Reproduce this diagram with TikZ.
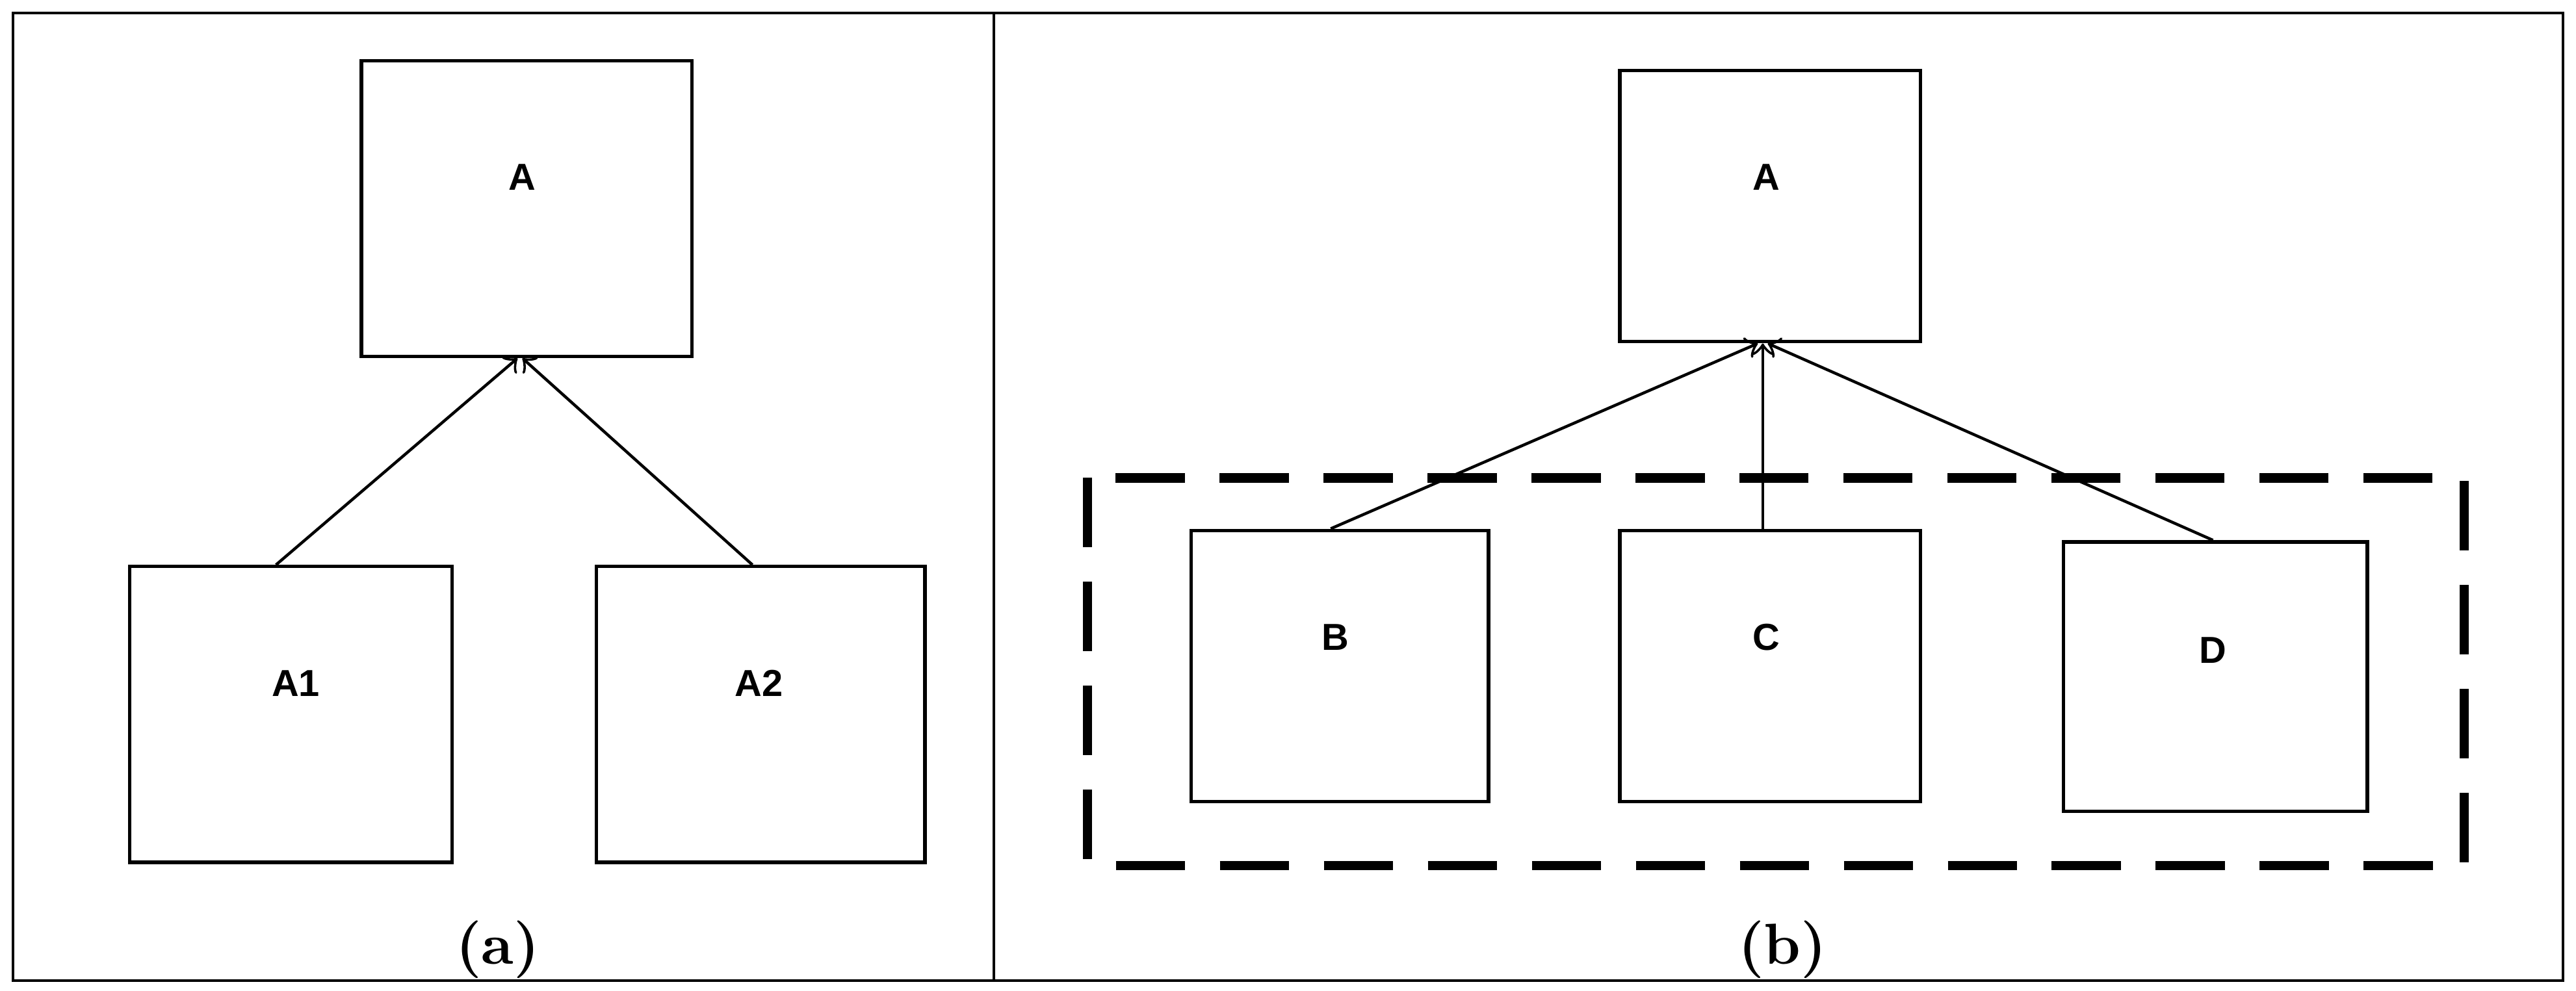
\documentclass[tikz,border=0pt]{standalone}
\usepackage{fontspec}
\newfontfamily\boxfont{Liberation Sans}
\begin{document}
\begin{tikzpicture}[x=0.01cm,y=-0.01cm,
	blk/.style={draw,line width=0.6pt,inner sep=0pt},
	lbl/.style={font=\boxfont\bfseries\fontsize{6.5}{7}\selectfont},
	link/.style={line width=0.5pt,-{>[open]}}]
	\useasboundingbox (0,0) rectangle (1568,603);
	\draw [line width=0.5pt] (8,8) rectangle (1560,597);
	\draw [line width=0.5pt] (605,8) -- (605,597);
	% part (a)
	\node [blk,minimum width=2.01cm,minimum height=1.80cm] (A) at (320.5,127) {};
	\node [lbl] at (318,108) {A};
	\node [blk,minimum width=1.96cm,minimum height=1.80cm] (A1) at (177,435) {};
	\node [lbl] at (180,416) {A1};
	\node [blk,minimum width=2.00cm,minimum height=1.80cm] (A2) at (463,435) {};
	\node [lbl] at (462,416) {A2};
	\draw [link] (A1.north -| 168,0) -- (A.south -| 315,0);
	\draw [link] (A2.north -| 458,0) -- (A.south -| 318,0);
	\node [font=\bfseries\fontsize{10}{12}\selectfont] at (303,578) {(a)};
	% part (b)
	\draw [line width=1.6pt,dash pattern=on 12pt off 6pt] (662,291) rectangle (1500,527);
	\node [blk,minimum width=1.83cm,minimum height=1.65cm] (TA) at (1077.5,125.5) {};
	\node [lbl] at (1075,108) {A};
	\node [blk,minimum width=1.81cm,minimum height=1.65cm] (B) at (815.5,405.5) {};
	\node [lbl] at (813,388) {B};
	\node [blk,minimum width=1.83cm,minimum height=1.65cm] (C) at (1077.5,405.5) {};
	\node [lbl] at (1075,388) {C};
	\node [blk,minimum width=1.85cm,minimum height=1.64cm] (D) at (1348.5,412) {};
	\node [lbl] at (1347,396) {D};
	\draw [link] (B.north -| 810,0) -- (TA.south -| 1070,0);
	\draw [link] (C.north -| 1073,0) -- (TA.south -| 1073,0);
	\draw [link] (D.north -| 1347,0) -- (TA.south -| 1076,0);
	\node [font=\bfseries\fontsize{10}{12}\selectfont] at (1085,578) {(b)};
\end{tikzpicture}
\end{document}
